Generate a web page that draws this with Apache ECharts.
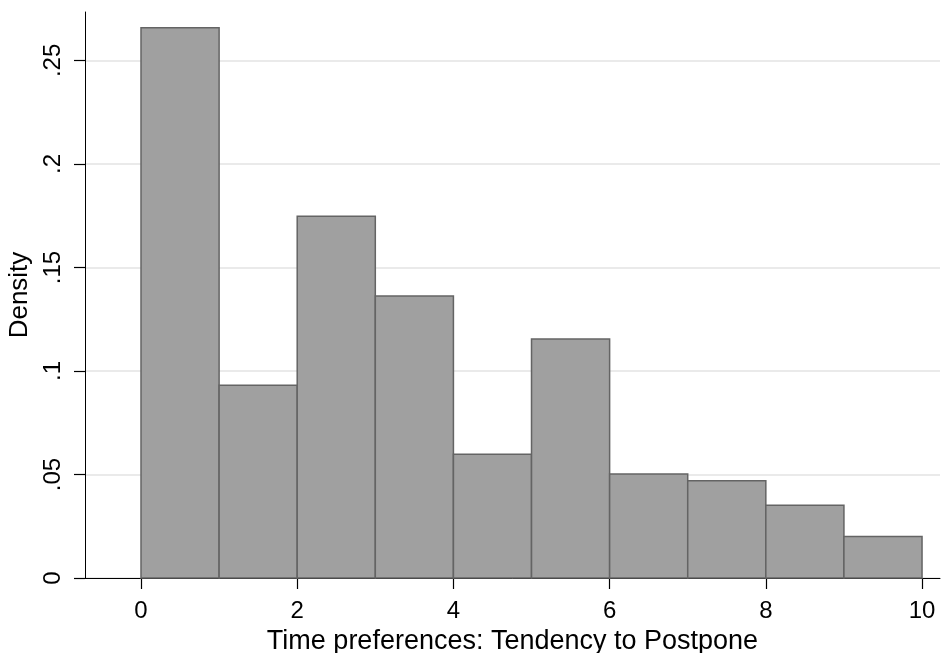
<!DOCTYPE html>
<html><head><meta charset="utf-8">
<script src="https://cdn.jsdelivr.net/npm/echarts@6/dist/echarts.min.js"></script>
<style>html,body{margin:0;padding:0;background:#fff}#c{width:943px;height:653px}</style>
</head><body><div id="c"></div>
<script>
var binStart = [0,1,2,3,4,5,6,7,8,9];
var binEnd   = [1,2,3,4,5,6,7,8,9,10];
var density  = [0.2658,0.0931,0.1747,0.1362,0.0598,0.1155,0.0502,0.0470,0.0351,0.0201];
var xTicks = [0,2,4,6,8,10];
var yTicks = [0,0.05,0.1,0.15,0.2,0.25];
var yTickLabels = ['0','.05','.1','.15','.2','.25'];

var data = binStart.map(function(s,i){return [s, binEnd[i], density[i]];});
var chart = echarts.init(document.getElementById('c'));
var font = 'Liberation Sans, Arial, sans-serif';
chart.setOption({
  animation:false,
  grid:{left:85,right:3,top:12,bottom:75,outerBoundsMode:'none',containLabel:false},
  xAxis:{type:'value',min:-0.717,max:10.23,
    axisLine:{show:true,onZero:false,lineStyle:{color:'#000',width:1}},
    axisTick:{show:true,length:11,lineStyle:{color:'#000',width:1.2},customValues:xTicks},
    axisLabel:{customValues:xTicks,fontSize:24,color:'#000',fontFamily:font,margin:21,showMinLabel:true,showMaxLabel:true},
    splitLine:{show:false},
    name:'Time preferences: Tendency to Postpone',nameLocation:'middle',nameGap:42,
    nameTextStyle:{fontSize:27,color:'#000',fontFamily:font}},
  yAxis:{type:'value',min:0,max:0.2734,
    axisLine:{show:true,onZero:false,lineStyle:{color:'#000',width:1}},
    axisTick:{show:true,length:11,lineStyle:{color:'#000',width:1.2},customValues:yTicks},
    axisLabel:{customValues:yTicks,rotate:90,fontSize:24,color:'#000',fontFamily:font,margin:20,
      formatter:function(v){var i=yTicks.findIndex(function(t){return Math.abs(t-v)<1e-9;});return i>=0?yTickLabels[i]:'';}},
    splitLine:{show:true,lineStyle:{color:'#eaeaea',width:2}},
    name:'Density',nameLocation:'middle',nameGap:41,nameRotate:90,
    nameTextStyle:{fontSize:26,color:'#000',fontFamily:font}},
  series:[{type:'custom',data:data,
    renderItem:function(params,api){
      var p0=api.coord([api.value(0),api.value(2)]);
      var p1=api.coord([api.value(1),0]);
      return {type:'rect',shape:{x:p0[0],y:p0[1],width:p1[0]-p0[0],height:p1[1]-p0[1]},
        style:{fill:'#a0a0a0',stroke:'#646464',lineWidth:1.5}};
    },
    encode:{x:[0,1],y:2}}]
});
</script></body></html>
